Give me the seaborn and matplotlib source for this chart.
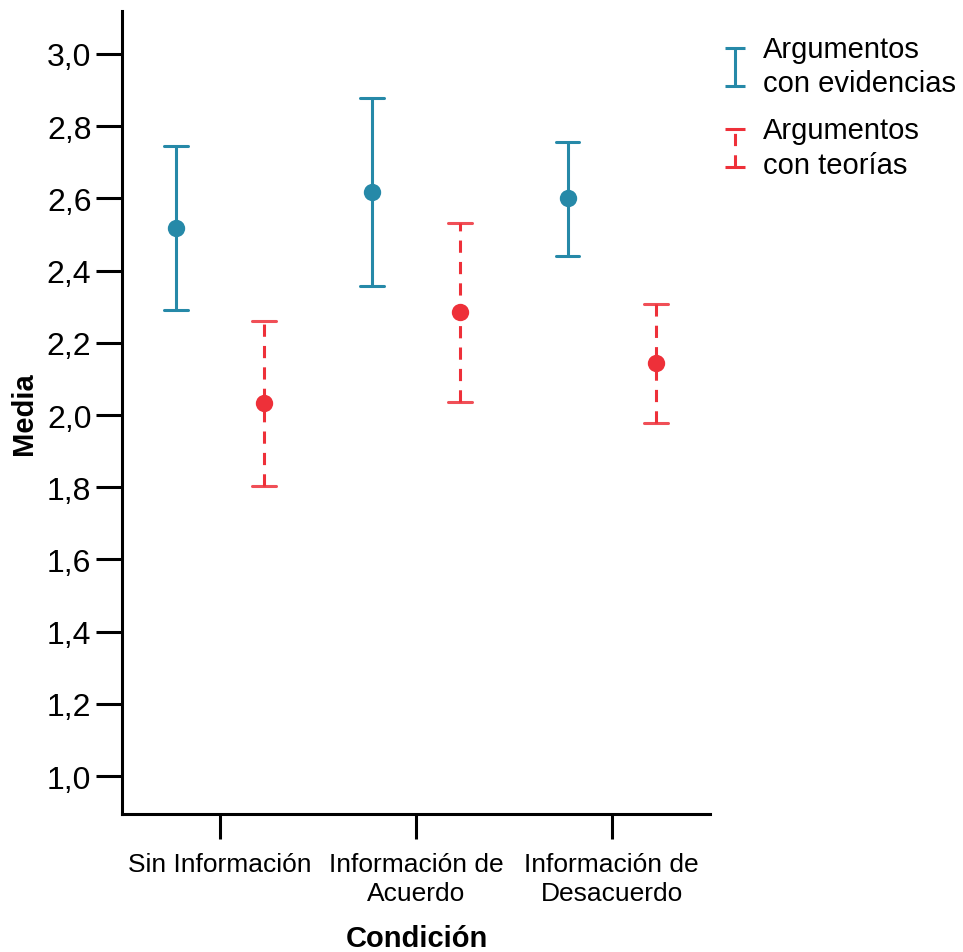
import matplotlib
matplotlib.use('Agg')
import matplotlib.pyplot as plt
from matplotlib.collections import LineCollection
from matplotlib.container import ErrorbarContainer
from matplotlib.legend_handler import HandlerErrorbar
from matplotlib.lines import Line2D
import numpy as np
import pandas as pd
import seaborn as sns

# condition labels (x axis)
conditions = ['Sin Información', 'Información de\nAcuerdo', 'Información de\nDesacuerdo']
series = ['Argumentos\ncon evidencias', 'Argumentos\ncon teorías']

# mean and 95% CI bounds, one per condition
evid_mean = [2.518, 2.618, 2.601]
evid_low = [2.291, 2.357, 2.440]
evid_high = [2.745, 2.878, 2.756]

teor_mean = [2.033, 2.285, 2.144]
teor_low = [1.803, 2.036, 1.978]
teor_high = [2.260, 2.532, 2.307]

yticks = [1.0, 1.2, 1.4, 1.6, 1.8, 2.0, 2.2, 2.4, 2.6, 2.8, 3.0]
ytick_labels = ['1,0', '1,2', '1,4', '1,6', '1,8', '2,0', '2,2', '2,4', '2,6', '2,8', '3,0']

blue = '#2689a8'
red = '#ee3039'
dash = (0, (4, 3))

# long table: low / mean / high for each cell -> median gives the mean,
# the 0-100 percentile interval gives the CI bounds
rows = []
for name, mean, low, high in [(series[0], evid_mean, evid_low, evid_high),
                              (series[1], teor_mean, teor_low, teor_high)]:
    for i, cond in enumerate(conditions):
        for v in (low[i], mean[i], high[i]):
            rows.append({'Condición': cond, 'Serie': name, 'Media': v})
df = pd.DataFrame(rows)

sns.set_style('ticks')
plt.rcParams['font.family'] = ['Liberation Sans', 'DejaVu Sans']
plt.rcParams['text.color'] = 'black'
plt.rcParams['axes.labelcolor'] = 'black'
plt.rcParams['xtick.color'] = 'black'
plt.rcParams['ytick.color'] = 'black'

fig = plt.figure(figsize=(9.63, 9.53), dpi=100)
ax = fig.add_axes([0.1267, 0.1448, 0.737 - 0.1267, 0.9874 - 0.1448])

sns.pointplot(data=df, x='Condición', y='Media', hue='Serie',
              order=conditions, hue_order=series, palette=[blue, red],
              estimator='median', errorbar=('pi', 100),
              dodge=0.45, linestyle='none', capsize=0.12,
              err_kws={'linewidth': 2.2}, markersize=12.5,
              markeredgewidth=0, ax=ax, legend=False)

# second series: dashed vertical bar, solid caps
for ln in list(ax.lines):
    is_err = ln.get_marker() in (None, 'None', '', ' ')
    if is_err and matplotlib.colors.to_hex(ln.get_color()) == red:
        xs = np.asarray(ln.get_xdata(), dtype=float)
        ys = np.asarray(ln.get_ydata(), dtype=float)
        if len(xs) == 8:
            ln.set_data(xs[3:5], ys[3:5])
            ln.set_linestyle(dash)
            for a, b in [(0, 2), (6, 8)]:
                ax.plot(xs[a:b], ys[a:b], color=red, linewidth=2.2, alpha=0.85)

ax.set_xlim(-0.5, 2.5)
ax.set_ylim(0.895, 3.119)
ax.set_yticks(yticks)
ax.set_yticklabels(ytick_labels, fontsize=23)
ax.tick_params(axis='y', length=19, width=2.2, pad=3)
ax.tick_params(axis='x', length=18, width=2.2, pad=9, labelsize=19)
for lab in ax.get_xticklabels():
    lab.set_linespacing(1.3)

for side in ['top', 'right']:
    ax.spines[side].set_visible(False)
for side in ['left', 'bottom']:
    ax.spines[side].set_linewidth(2.2)
    ax.spines[side].set_color('black')

ax.set_ylabel('Media', fontsize=21, fontweight='bold')
ax.set_xlabel('Condición', fontsize=21, fontweight='bold')
ax.yaxis.set_label_coords(-0.143, 0.5)
ax.xaxis.set_label_coords(0.502, -0.137)


# legend with error-bar symbols only
def err_handle(color, ls):
    cap = Line2D([], [], color=color, marker='_', markersize=14,
                 markeredgewidth=2.2, linestyle='none')
    bar = LineCollection([], colors=color, linewidths=2.2, linestyles=ls)
    return ErrorbarContainer((None, (cap, cap), (bar,)), has_xerr=False, has_yerr=True)


h1 = err_handle(blue, 'solid')
h2 = err_handle(red, dash)
leg = fig.legend([h1, h2], series, loc='upper left', bbox_to_anchor=(0.721, 0.99),
                 frameon=False, fontsize=21, handlelength=1.0, handletextpad=0.45,
                 labelspacing=0.65,
                 handler_map={ErrorbarContainer: HandlerErrorbar(yerr_size=0.65)})
for t in leg.get_texts():
    t.set_linespacing(1.3)

fig.savefig('out.png', dpi=100)
